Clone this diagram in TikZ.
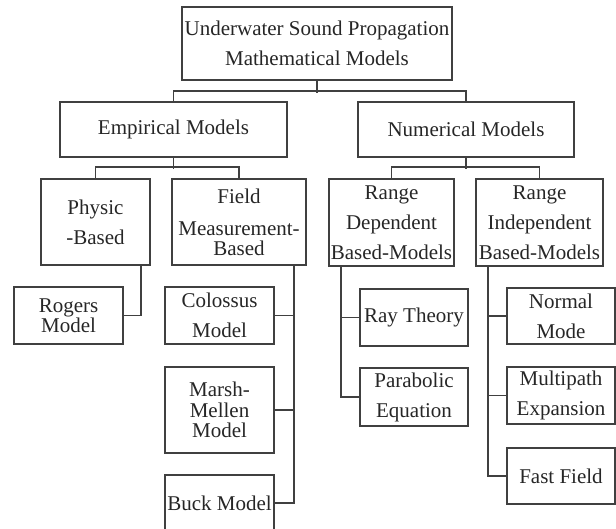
\documentclass[tikz,border=0pt]{standalone}
\usepackage{fontspec}
\setmainfont{Liberation Serif}
\begin{document}
\begin{tikzpicture}[x=1pt,y=-1pt,
  box/.style={draw=black!75,line width=1.6pt,text=black!85,inner sep=0pt,align=center,
    font=\fontsize{21}{30}\selectfont},
  link/.style={draw=black!75,line width=1.6pt}]
\useasboundingbox (0,0) rectangle (616,529);
\clip (0,0) rectangle (616,529);
% nodes
\node[box,minimum width=270pt,minimum height=73pt] (top) at (317,43.5) {Underwater Sound Propagation\\Mathematical Models};
\node[box,minimum width=227pt,minimum height=55pt] (emp) at (173.5,129.5) {Empirical Models};
\node[box,minimum width=216pt,minimum height=55pt] (num) at (466,129.5) {Numerical Models};
\node[box,minimum width=109pt,minimum height=86pt] (phys) at (95.5,222) {Physic\\-Based};
\node[box,minimum width=134pt,minimum height=86pt] (field) at (239,222) {Field\\[2pt]Measurement-\\[-10pt]Based};
\node[box,minimum width=125pt,minimum height=87pt] (rd) at (391.5,222.5) {Range\\Dependent\\Based-Models};
\node[box,minimum width=127pt,minimum height=87pt] (ri) at (539.5,222.5) {Range\\Independent\\Based-Models};
\node[box,minimum width=109pt,minimum height=57pt] (rogers) at (68.5,315.5) {Rogers\\[-10pt]Model};
\node[box,minimum width=109pt,minimum height=57pt] (colossus) at (219.5,315.5) {Colossus\\Model};
\node[box,minimum width=109pt,minimum height=86pt] (marsh) at (219.5,410) {Marsh-\\[-9pt]Mellen\\[-10pt]Model};
\node[box,minimum width=109pt,minimum height=56pt] (buck) at (219.5,503) {Buck Model};
\node[box,minimum width=108pt,minimum height=57pt] (ray) at (414,317.5) {Ray Theory};
\node[box,minimum width=108pt,minimum height=58pt] (parab) at (414,397) {Parabolic\\Equation};
\node[box,minimum width=108pt,minimum height=56pt] (normal) at (561,316) {Normal\\Mode};
\node[box,minimum width=108pt,minimum height=57pt] (multi) at (561,395.5) {Multipath\\Expansion};
\node[box,minimum width=108pt,minimum height=56pt] (fast) at (561,476) {Fast Field};
% level 1
\draw[link] (top.south) -- ++(0,12);
\draw[link] (emp.north) -- ++(0,-10) -| (num.north);
% level 2
\draw[link] (emp.south) -- ++(0,11);
\draw[link] (phys.north) -- ++(0,-11) -| (field.north);
\draw[link] (num.south) -- ++(0,11);
\draw[link] (rd.north) -- ++(0,-11) -| (ri.north);
% physic
\draw[link] ([xshift=-10pt]phys.south east) |- (rogers.east);
% field
\coordinate (fv) at ([xshift=-13pt]field.south east);
\draw[link] (fv) |- (buck.east);
\draw[link] (colossus.east) -- (colossus.east -| fv);
\draw[link] (marsh.east) -- (marsh.east -| fv);
% range dependent
\coordinate (rdv) at ([xshift=13pt]rd.south west);
\draw[link] (rdv) |- (parab.west);
\draw[link] (ray.west) -- (ray.west -| rdv);
% range independent
\coordinate (riv) at ([xshift=13pt]ri.south west);
\draw[link] (riv) |- (fast.west);
\draw[link] (normal.west) -- (normal.west -| riv);
\draw[link] (multi.west) -- (multi.west -| riv);
\end{tikzpicture}
\end{document}
